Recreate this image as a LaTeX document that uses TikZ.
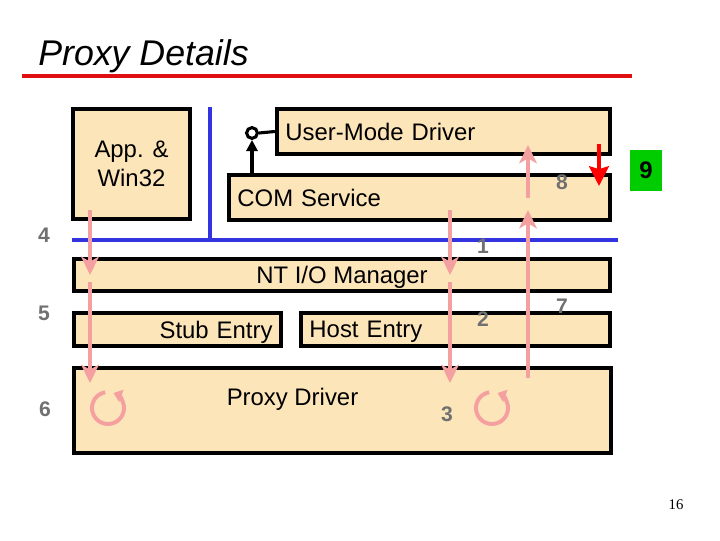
\documentclass[tikz,border=0pt]{standalone}
\usepackage{fontspec}
\setmainfont{Liberation Sans}
\newfontfamily\pagenofont{Liberation Serif}
\usetikzlibrary{arrows.meta}

\definecolor{boxFill}{RGB}{253,229,186}
\definecolor{busBlue}{RGB}{51,51,224}
\definecolor{flowPink}{RGB}{245,160,160}
\definecolor{titleRed}{RGB}{224,16,16}
\definecolor{stepGray}{RGB}{112,112,112}
\definecolor{nineGreen}{RGB}{0,204,0}

\begin{document}
\begin{tikzpicture}[
        x=0.025cm, y=-0.025cm,
        layerBlock/.style={
            rectangle, draw=black, line width=3pt, fill=boxFill,
            inner xsep=0.2cm, inner ysep=0pt, text depth=0pt,
            font=\fontsize{17}{20.5}\selectfont
        },
        stepLabel/.style={
            text=stepGray, inner sep=0pt,
            font=\fontsize{15}{18}\selectfont\bfseries
        },
        bus/.style={
            draw=busBlue, line width=3.3pt
        },
        flow/.style={
            draw=flowPink, line width=2.2pt,
            -{Stealth[length=13pt,width=12.5pt,inset=3.5pt]}
        },
        spin/.style={
            draw=flowPink, line width=2.8pt,
            -{Triangle[length=6pt,width=9pt]}
        },
        ctrlArrow/.style={
            draw=black, line width=2.2pt,
            -{Triangle[length=8pt,width=8pt]}
        },
        redArrow/.style={
            draw=red, line width=2.8pt,
            -{Stealth[length=14pt,width=14pt,inset=2pt]}
        }
    ]
        \useasboundingbox (0,0) rectangle (720,540);

        % Title
        \node (title) [anchor=base west, inner sep=0pt, font=\fontsize{25.4}{30}\selectfont\itshape] at (38,65) {Proxy Details};
        \draw [titleRed, line width=2.9pt] (22,76) -- (632,76);

        % Boxes
        \node (app) [layerBlock, minimum width=2.925cm, minimum height=2.75cm, align=center] at (131.5,164) {App. \&\\ Win32};
        \node (umd) [layerBlock, minimum width=8.325cm, minimum height=1.125cm, text width=7.9cm, align=left] at (443.5,131.5) {User-Mode Driver};
        \node (com) [layerBlock, minimum width=9.525cm, minimum height=1.125cm, text width=9.1cm, align=left] at (419.5,197.5) {COM Service};
        \node (nt) [layerBlock, minimum width=13.4cm, minimum height=0.8cm] at (342,275) {NT I/O Manager};
        \node (stub) [layerBlock, minimum width=5.175cm, minimum height=0.825cm, text width=4.75cm, align=right] at (177.5,329.5) {Stub Entry};
        \node (host) [layerBlock, minimum width=7.725cm, minimum height=0.825cm, text width=7.3cm, align=left] at (455.5,329.5) {Host Entry};
        \node (proxy) [layerBlock, minimum width=13.425cm, minimum height=2.125cm] at (342.5,410.5) {};
        \node (proxyText) [text depth=0pt, font=\fontsize{17}{20.5}\selectfont] at (292.5,397) {Proxy Driver};

        % Interface knob
        \node (iface) [circle, draw=black, line width=2.2pt, minimum size=0.27cm, inner sep=0pt] at (252,133) {};
        \draw [line width=2.2pt] (iface.east) -- (umd.west);
        \draw [ctrlArrow] (com.north -| iface) -- (iface.south);

        % Bus lines
        \draw [bus] (210,107) -- (210,240);
        \draw [bus] (72,240) -- (618,240);

        % Step numbers
        \node (n1) [stepLabel] at (483,246) {1};
        \node (n2) [stepLabel] at (483,319) {2};
        \node (n3) [stepLabel] at (447,414) {3};
        \node (n4) [stepLabel] at (44,235) {4};
        \node (n5) [stepLabel] at (44,313) {5};
        \node (n6) [stepLabel] at (45,409) {6};
        \node (n7) [stepLabel] at (562,306) {7};
        \node (n8) [stepLabel] at (562,182) {8};
        \node (nine) [fill=nineGreen, minimum width=0.8cm, minimum height=1.025cm, inner sep=0pt, font=\fontsize{17}{20}\selectfont\bfseries] at (646,170.5) {9};

        % Flow points
        \coordinate (appOut) at (90,210);
        \coordinate (appIn) at (90,275);
        \coordinate (appOut2) at (90,282);
        \coordinate (appIn2) at (90,383);
        \coordinate (comOut) at (450,210);
        \coordinate (comIn) at (450,275);
        \coordinate (comOut2) at (450,282);
        \coordinate (comIn2) at (450,383);
        \coordinate (retOut) at (528,378);
        \coordinate (retIn) at (528,210);
        \coordinate (retOut2) at (528,198);
        \coordinate (retIn2) at (528,145);
        \coordinate (redTop) at (599,144);
        \coordinate (redTip) at (599,186);
        \coordinate (spinA) at (108,408);
        \coordinate (spinB) at (492,408);

        % Arrows
        \draw [flow] (appOut) -- (appIn);
        \draw [flow] (appOut2) -- (appIn2);
        \draw [flow] (comOut) -- (comIn);
        \draw [flow] (comOut2) -- (comIn2);
        \draw [flow] (retOut) -- (retIn);
        \draw [flow] (retOut2) -- (retIn2);
        \draw [redArrow] (redTop) -- (redTip);
        \draw [spin] (spinA) ++(-100:16) arc[start angle=-100, end angle=-430, radius=16];
        \draw [spin] (spinB) ++(-100:16) arc[start angle=-100, end angle=-430, radius=16];

        % Page number
        \node (pageNo) [font=\pagenofont\fontsize{10.5}{12}\selectfont] at (676,505) {16};
    \end{tikzpicture}
\end{document}
